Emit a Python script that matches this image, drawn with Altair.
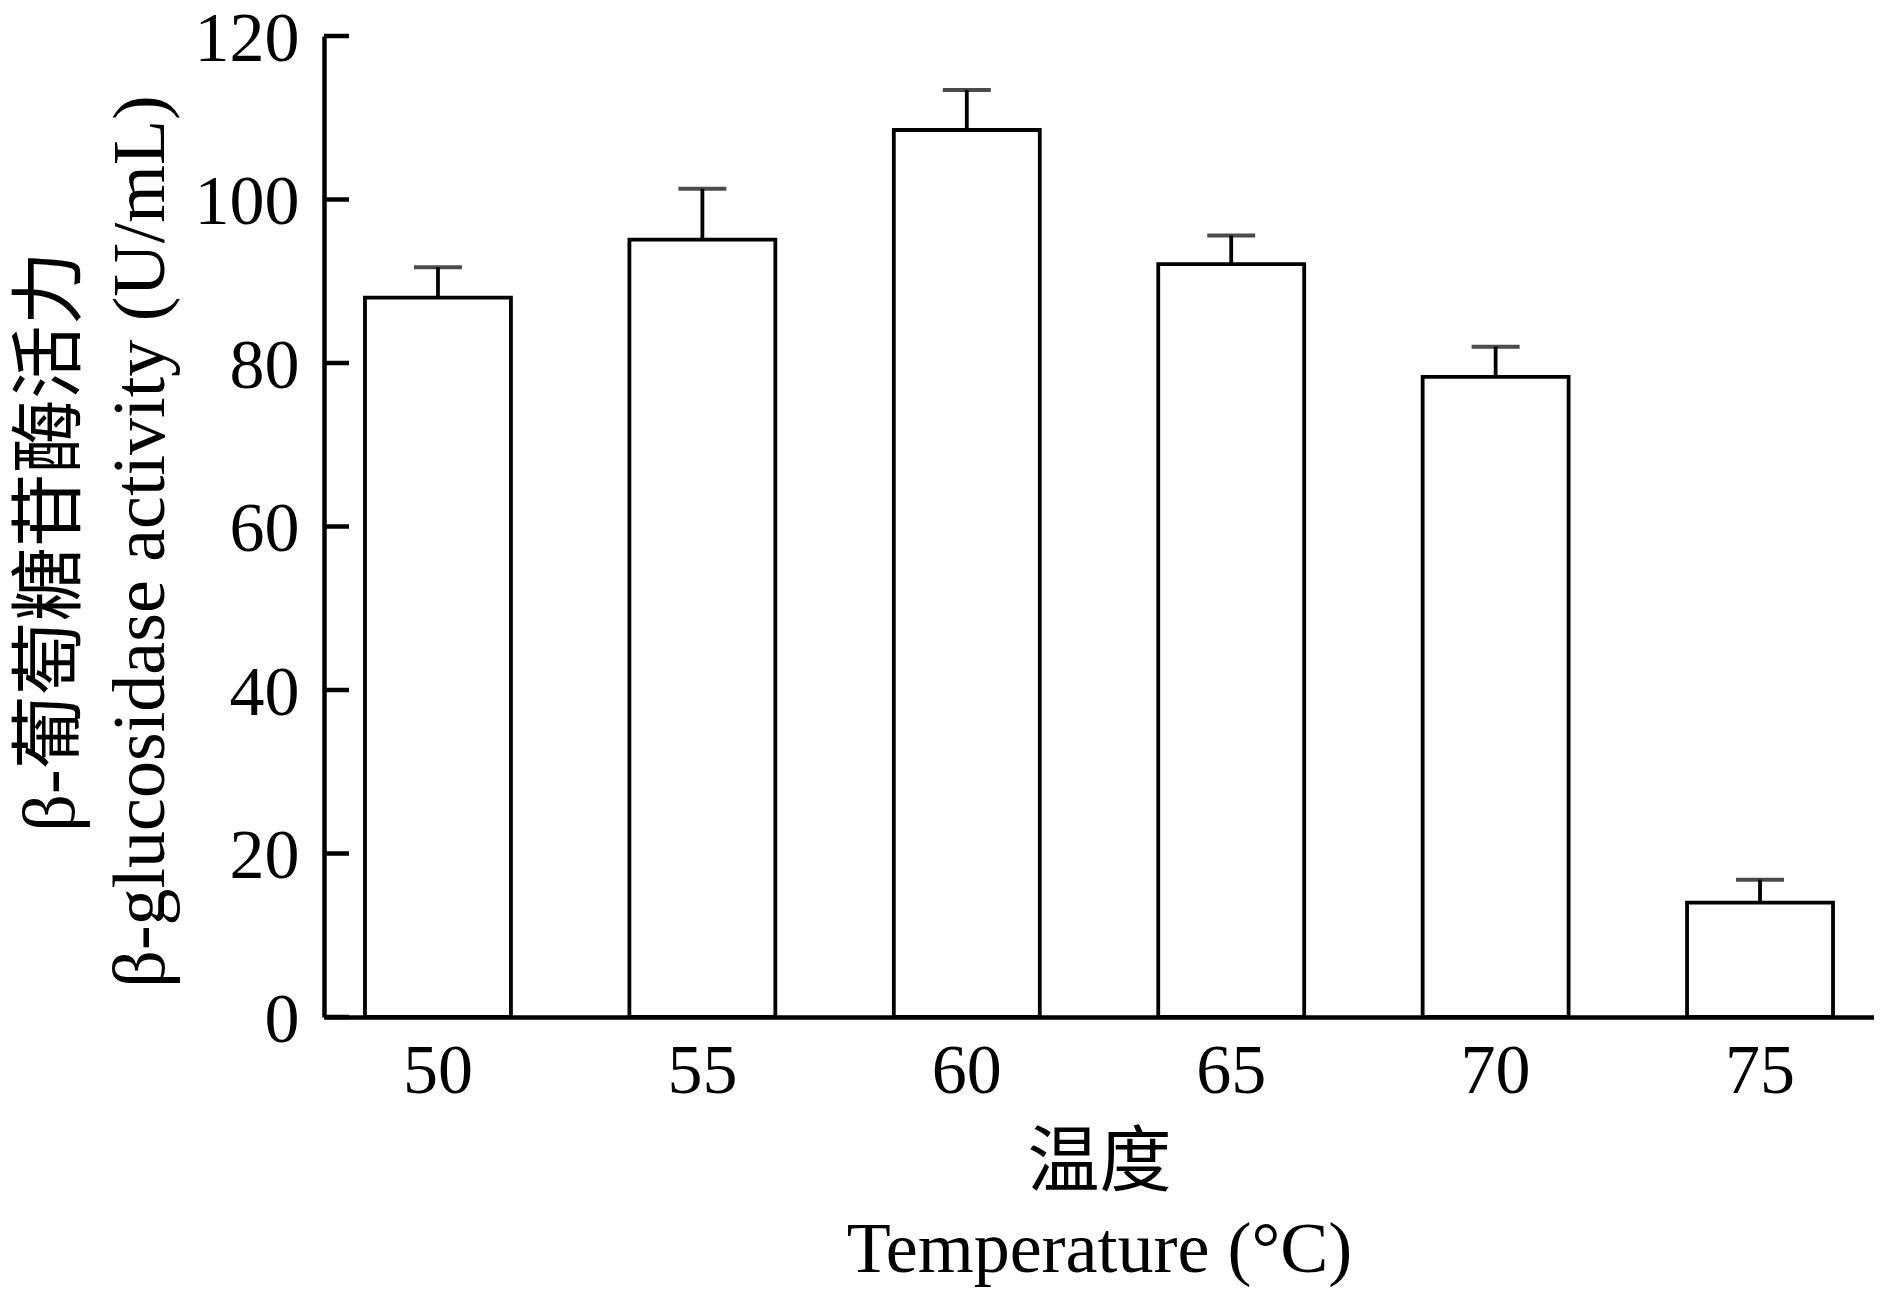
import altair as alt
import pandas as pd

temps = ["50", "55", "60", "65", "70", "75"]
activity = [88.0, 95.1, 108.5, 92.1, 78.3, 14.0]
errors = [3.7, 6.2, 4.9, 3.5, 3.7, 2.8]
y_ticks = [0, 20, 40, 60, 80, 100, 120]

FONT = "Liberation Serif, Times New Roman, Noto Sans CJK SC"

df = pd.DataFrame({"temp": temps, "value": activity, "err": errors})
df["top"] = df["value"] + df["err"]
ticks_df = pd.DataFrame({"t": y_ticks})

xscale = alt.Scale(paddingInner=0.448, paddingOuter=0.155)
yscale = alt.Scale(domain=[0, 120], nice=False, zero=True)

x_axis = alt.Axis(
    title=["温度", "Temperature (°C)"],
    titleFont=FONT, titleFontSize=72, titleFontWeight="normal", titleColor="black",
    titleLineHeight=87, titleBaseline="alphabetic", titleAlign="center",
    titleY=167,
    labelFont=FONT, labelFontSize=70, labelColor="black", labelAngle=0,
    labelPadding=20, ticks=False, tickSize=0,
    domainColor="black", domainWidth=4.5, grid=False,
)
y_axis = alt.Axis(
    title=["β-葡萄糖苷酶活力", "β-glucosidase activity (U/mL)"],
    titleFont=FONT, titleFontSize=74, titleFontWeight="normal", titleColor="black",
    titleLineHeight=90, titleBaseline="alphabetic", titleAlign="center",
    titleAngle=270, titleX=-251, titleY=505,
    values=y_ticks,
    labelFont=FONT, labelFontSize=70, labelColor="black",
    labelPadding=25, labelOffset=3, ticks=False, tickSize=0,
    domainColor="black", domainWidth=4.5, grid=False,
)

base = alt.Chart(df)

bars = base.mark_bar(fill="white", stroke="black", strokeWidth=3.8).encode(
    x=alt.X("temp:N", sort=None, scale=xscale, axis=x_axis),
    y=alt.Y("value:Q", scale=yscale, axis=y_axis),
)

err_line = base.mark_rule(color="black", strokeWidth=3.8).encode(
    x=alt.X("temp:N", sort=None),
    y="value:Q",
    y2="top:Q",
)

caps = base.mark_tick(color="black", size=48, thickness=4).encode(
    x=alt.X("temp:N", sort=None),
    y="top:Q",
)

inner_ticks = alt.Chart(ticks_df).mark_rule(color="black", strokeWidth=4.5).encode(
    x=alt.value(0),
    x2=alt.value(25),
    y=alt.Y("t:Q"),
)

chart = alt.layer(bars, err_line, caps, inner_ticks).properties(
    width=1550,
    height=981,
    autosize=alt.AutoSizeParams(type="none"),
    padding={"left": 316, "top": 28, "right": 0, "bottom": 272},
    background="white",
).configure_view(stroke=None)

chart.save("out.html", embed_options={"renderer": "svg", "actions": False})
